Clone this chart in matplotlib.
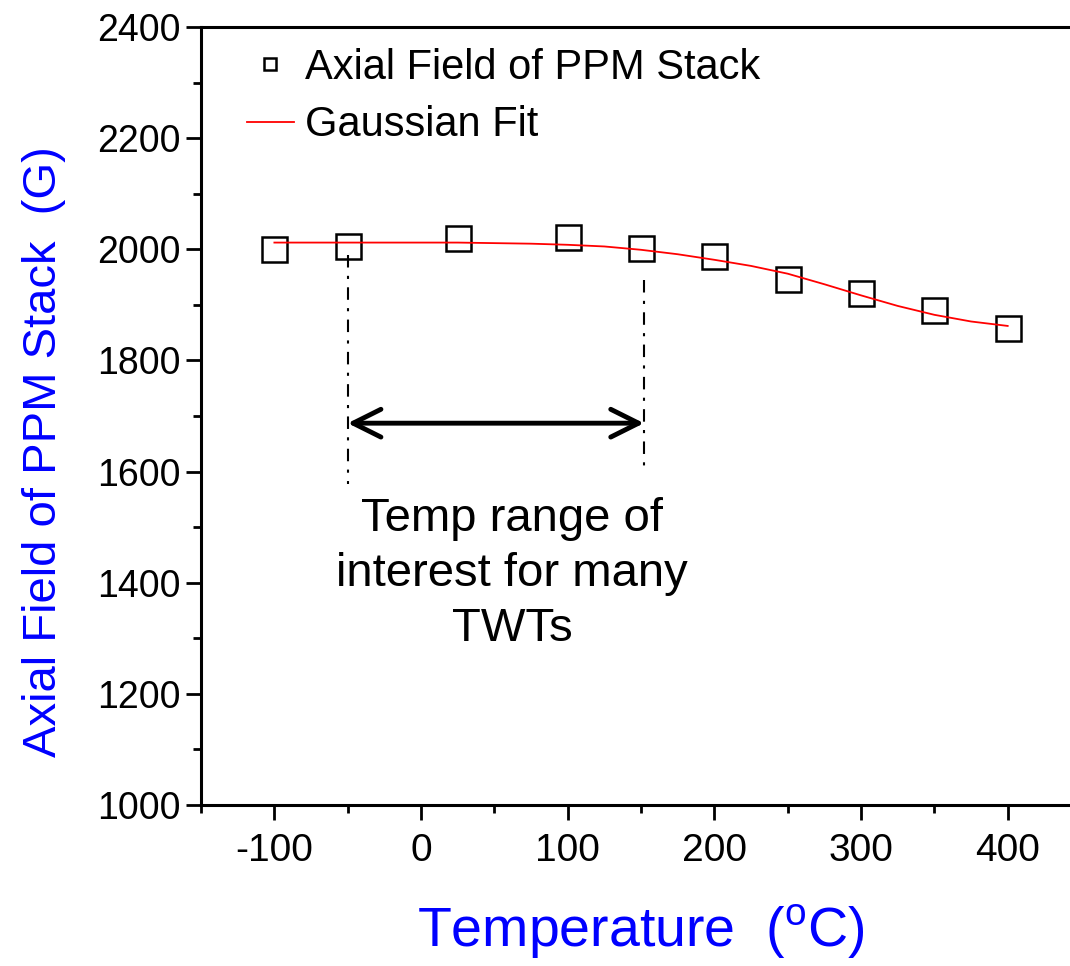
import matplotlib.pyplot as plt
from matplotlib.ticker import MultipleLocator

plt.rcParams['font.family'] = ['Liberation Sans', 'DejaVu Sans']
plt.rcParams['mathtext.fontset'] = 'custom'
plt.rcParams['mathtext.rm'] = 'Liberation Sans'
plt.rcParams['axes.unicode_minus'] = False

# measured axial field (G)
temp = [-100, -50, 25, 100, 150, 200, 250, 300, 350, 400]
field = [2000, 2005, 2020, 2022, 2002, 1987, 1946, 1922, 1890, 1859]

# gaussian fit curve
fit_t = [-100, -75, -50, -25, 0, 25, 50, 75, 100, 125, 150, 175, 200,
         225, 250, 275, 300, 325, 350, 375, 400]
fit_v = [2012, 2012, 2012, 2012, 2012, 2012, 2011, 2010, 2008, 2005, 1999,
         1991, 1981, 1970, 1956, 1937, 1917, 1898, 1882, 1870, 1862]

# temperature range of interest
range_lo, range_hi = -50, 152
arrow_y = 1687

fig = plt.figure(figsize=(10.7, 9.66), dpi=100)
ax = fig.add_axes([0.1879, 0.1667, 0.8224, 0.8054])

ax.plot(temp, field, linestyle='none', marker='s', markersize=18,
        markerfacecolor='none', markeredgecolor='black', markeredgewidth=1.8,
        label='Axial Field of PPM Stack')
ax.plot(fit_t, fit_v, color='red', linewidth=1.3, label='Gaussian Fit')

ax.plot([range_lo, range_lo], [1989, 1578], color='black', linestyle=(0, (6, 4, 1.5, 4)), linewidth=1.5)
ax.plot([range_hi, range_hi], [1944, 1602], color='black', linestyle=(0, (6, 4, 1.5, 4)), linewidth=1.5)
ax.annotate('', xy=(range_lo, arrow_y), xytext=(range_hi, arrow_y),
            arrowprops=dict(arrowstyle='<->,head_length=1.0,head_width=0.5',
                            lw=3.5, color='black', mutation_scale=20,
                            shrinkA=0, shrinkB=0))
ax.text(62, 1416, 'Temp range of\ninterest for many\nTWTs', ha='center', va='center',
        fontsize=34, linespacing=1.32)

ax.set_xlim(-150, 450)
ax.set_ylim(1000, 2400)
ax.xaxis.set_major_locator(MultipleLocator(100))
ax.xaxis.set_minor_locator(MultipleLocator(50))
ax.yaxis.set_major_locator(MultipleLocator(200))
ax.yaxis.set_minor_locator(MultipleLocator(100))
ax.tick_params(which='both', direction='out', width=2, labelsize=27, pad=4)
ax.tick_params(axis='x', which='both', labelsize=28, pad=9)
ax.tick_params(which='major', length=11)
ax.tick_params(which='minor', length=6)
for s in ax.spines.values():
    s.set_linewidth(2.2)

ax.set_xlabel(r'Temperature  ($^{\mathrm{o}}$C)', fontsize=40, color='blue', labelpad=24)
ax.set_ylabel('Axial Field of PPM Stack  (G)', fontsize=34, color='blue')
ax.yaxis.set_label_coords(-0.153, 0.454)

ax.legend(loc='upper left', bbox_to_anchor=(0.028, 1.0), frameon=False, fontsize=30,
          markerscale=0.45, handlelength=1.15, handletextpad=0.25, labelspacing=0.42,
          borderaxespad=0.2, borderpad=0.3)

fig.savefig('out.png', dpi=100)
